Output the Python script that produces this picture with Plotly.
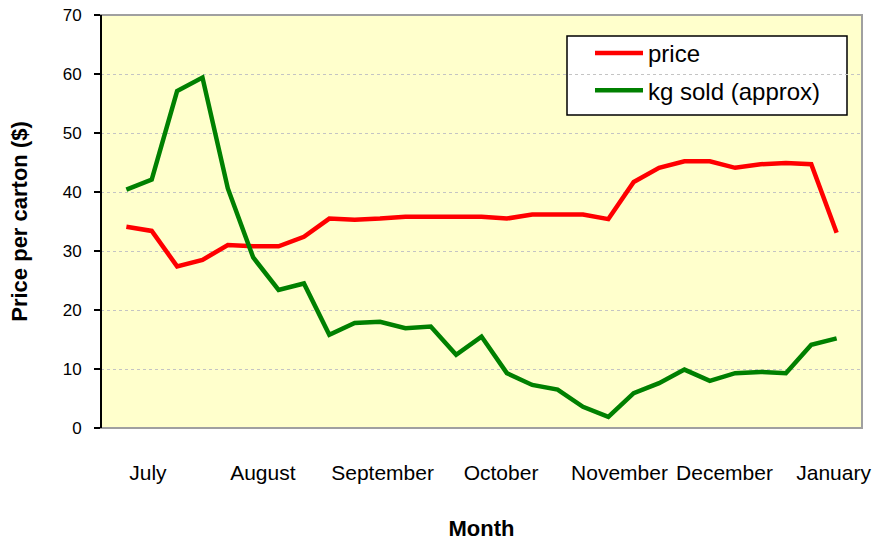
import plotly.graph_objects as go

# Weekly observations (index 0..28)
weeks = list(range(29))
price = [34.1, 33.4, 27.4, 28.5, 31.0, 30.8, 30.8, 32.4, 35.5, 35.3,
         35.5, 35.8, 35.8, 35.8, 35.8, 35.5, 36.2, 36.2, 36.2, 35.4,
         41.7, 44.1, 45.2, 45.2, 44.1, 44.7, 44.9, 44.7, 33.1]
kg_sold = [40.4, 42.1, 57.1, 59.4, 40.6, 28.9, 23.4, 24.5, 15.8, 17.8,
           18.0, 16.9, 17.2, 12.4, 15.5, 9.3, 7.3, 6.5, 3.6, 1.9,
           5.9, 7.6, 9.9, 8.0, 9.3, 9.5, 9.3, 14.1, 15.2]

month_labels = ["July", "August", "September", "October", "November", "December", "January"]
month_pos = [0.85, 5.38, 10.1, 14.77, 19.44, 23.58, 27.88]

y_ticks = [0, 10, 20, 30, 40, 50, 60, 70]

fig = go.Figure()
fig.add_trace(go.Scatter(x=weeks, y=price, mode="lines", name="price",
                         line=dict(color="#FF0000", width=4.5), legendgroup="a"))
fig.add_trace(go.Scatter(x=weeks, y=kg_sold, mode="lines", name="kg sold (approx)",
                         line=dict(color="#008000", width=4.5), legendgroup="b"))

W, H = 873, 541
L, T = 101, 15
R = W - 862
B = H - 428
pw, ph = W - L - R, H - T - B

def px_x(p):
    return (p - L) / pw

def px_y(p):
    return (H - B - p) / ph

fig.update_layout(
    width=W, height=H,
    margin=dict(l=L, r=R, t=T, b=B, pad=0),
    paper_bgcolor="white",
    plot_bgcolor="#FFFFCC",
    font=dict(family="Liberation Sans, Arial, sans-serif", color="black"),
    showlegend=True,
    legend=dict(x=px_x(590), y=px_y(31), xanchor="left", yanchor="top",
                bgcolor="rgba(0,0,0,0)", borderwidth=0,
                font=dict(size=24, family="Liberation Sans, Arial, sans-serif"),
                tracegroupgap=3, itemwidth=48),
    xaxis=dict(range=[-1, 29], tickmode="array", tickvals=month_pos, ticktext=month_labels,
               showgrid=False, zeroline=False, ticks="", showline=False, automargin=False,
               ticklabeloverflow="allow",
               tickfont=dict(size=21), ticklabelstandoff=30,
               title=dict(text="<b>Month</b>", font=dict(size=22), standoff=38)),
    yaxis=dict(range=[0, 70], tickmode="array", tickvals=y_ticks, automargin=False,
               ticklabeloverflow="allow",
               showgrid=True, gridcolor="#C4C4C4", griddash="dot", gridwidth=1,
               zeroline=False, showline=False, ticks="outside", ticklen=6,
               tickwidth=2, tickcolor="black", tickfont=dict(size=17), ticklabelstandoff=9,
               title=dict(text="<b>Price per carton ($)</b>", font=dict(size=22), standoff=28)),
    shapes=[
        dict(type="rect", xref="paper", yref="paper", x0=0, x1=1, y0=0, y1=1,
             line=dict(color="#A0A0A0", width=2), layer="above"),
        dict(type="line", xref="paper", yref="paper", x0=0, x1=0, y0=0, y1=1,
             line=dict(color="black", width=2), layer="above"),
        dict(type="rect", xref="paper", yref="paper",
             x0=px_x(567), x1=px_x(847), y0=px_y(115), y1=px_y(36),
             line=dict(color="black", width=1.5), fillcolor="white", layer="below"),
    ],
)

fig.write_html(
    "out.html",
    config={"displayModeBar": False},
    post_script="document.body.style.margin='0px';document.body.style.overflow='hidden';",
)
